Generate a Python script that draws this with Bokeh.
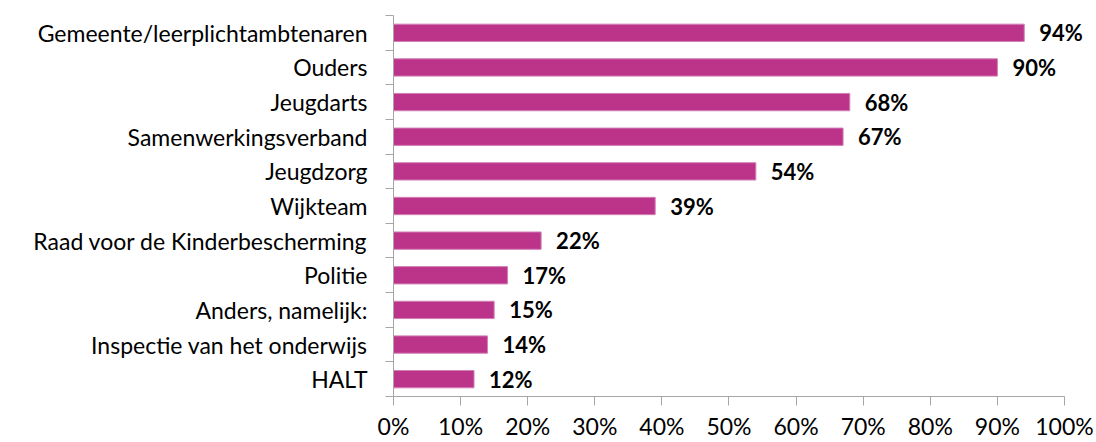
from bokeh.plotting import figure
from bokeh.models import ColumnDataSource, FixedTicker, Range1d
from bokeh.core.properties import value
from bokeh.embed import file_html
from bokeh.resources import INLINE

categories = ["Gemeente/leerplichtambtenaren", "Ouders", "Jeugdarts", "Samenwerkingsverband",
              "Jeugdzorg", "Wijkteam", "Raad voor de Kinderbescherming", "Politie",
              "Anders, namelijk:", "Inspectie van het onderwijs", "HALT"]
values = [94, 90, 68, 67, 54, 39, 22, 17, 15, 14, 12]
x_ticks = [0, 10, 20, 30, 40, 50, 60, 70, 80, 90, 100]
x_tick_labels = [f"{t}%" for t in x_ticks]

n = len(categories)
ypos = [n - i - 0.5 for i in range(n)]
src = ColumnDataSource(dict(cat=categories, val=values, y=ypos, lab=[f"{v}%" for v in values]))

FONT = "Lato"
p = figure(width=1096, height=442, output_backend="svg", toolbar_location=None,
           x_range=Range1d(0, 104.77), y_range=Range1d(0, n),
           min_border_left=393, min_border_right=0, min_border_top=15, min_border_bottom=44)
p.outline_line_color = None
p.xgrid.visible = False
p.ygrid.visible = False

p.hbar(y="y", right="val", left=0, height=0.5, source=src,
       fill_color="#BC348A", line_color="#D27FB6", line_width=1)
p.text(x="val", y="y", text="lab", source=src, x_offset=15,
       text_baseline="middle", text_align="left", text_font=value(FONT),
       text_font_style="bold", text_font_size="22px", text_color="black")

ax = p.xaxis[0]
ax.ticker = FixedTicker(ticks=x_ticks, minor_ticks=[])
ax.major_label_overrides = {t: l for t, l in zip(x_ticks, x_tick_labels)}
ax.bounds = (0, 100)
ax.axis_line_color = "#A6A6A6"
ax.major_tick_line_color = "#A6A6A6"
ax.major_tick_out = 9
ax.major_tick_in = 0
ax.minor_tick_line_color = None
ax.major_label_text_font = FONT
ax.major_label_text_font_size = "23px"
ax.major_label_text_color = "black"
ax.major_label_standoff = 6

ay = p.yaxis[0]
ay.ticker = FixedTicker(ticks=ypos, minor_ticks=list(range(n + 1)))
ay.major_label_overrides = {y: c for y, c in zip(ypos, categories)}
ay.axis_line_color = "#A6A6A6"
ay.major_tick_line_color = None
ay.major_tick_out = 0
ay.major_tick_in = 0
ay.minor_tick_line_color = "#A6A6A6"
ay.minor_tick_out = 8
ay.minor_tick_in = 0
ay.major_label_text_font = FONT
ay.major_label_text_font_size = "23px"
ay.major_label_text_color = "black"
ay.major_label_standoff = 18

open("out.html", "w").write(file_html(p, INLINE))
